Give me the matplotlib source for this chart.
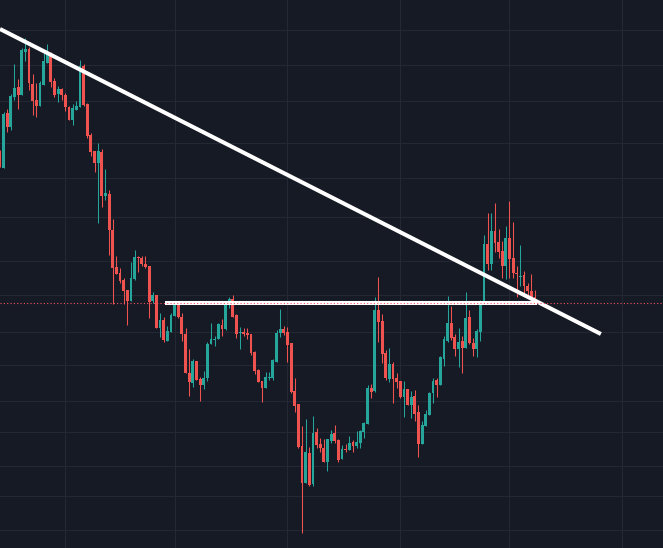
import matplotlib
matplotlib.use("Agg")
import matplotlib.pyplot as plt
import numpy as np

# Daily candles (price in chart units)
opens = [395, 380, 435, 421, 451, 461, 453, 496, 499, 464, 448, 442, 463, 485, 495, 467,
         454, 459, 453, 441, 428, 438, 441, 482, 444, 413, 397, 385, 396, 352, 354, 318,
         281, 275, 268, 258, 247, 269, 291, 290, 284, 282, 247, 253, 220, 228, 207, 216,
         232, 244, 231, 214, 175, 165, 187, 169, 163, 170, 204, 208, 209, 223, 219, 244,
         249, 233, 215, 216, 215, 214, 196, 178, 167, 160, 170, 170, 186, 215, 219, 216,
         205, 157, 144, 102, 65, 95, 64, 116, 104, 100, 86, 107, 115, 108, 89, 99,
         98, 106, 102, 105, 116, 124, 160, 157, 238, 227, 195, 169, 184, 170, 167, 151,
         159, 143, 152, 136, 104, 122, 133, 155, 168, 163, 189, 207, 225, 211, 199, 207,
         200, 231, 205, 199, 216, 245, 304, 284, 317, 306, 297, 282, 310, 290, 275, 271,
         273, 262, 257, 251]
highs = [398, 436, 439, 454, 484, 469, 500, 510, 501, 474, 465, 467, 495, 504, 496, 470,
         462, 460, 455, 442, 444, 447, 488, 484, 445, 415, 397, 405, 399, 379, 358, 329,
         292, 280, 270, 258, 286, 298, 292, 292, 292, 282, 256, 253, 235, 231, 222, 235,
         247, 245, 235, 220, 199, 189, 187, 171, 177, 206, 225, 212, 225, 229, 245, 251,
         253, 234, 221, 220, 220, 214, 197, 179, 167, 176, 176, 189, 218, 239, 222, 221,
         205, 170, 144, 122, 129, 101, 132, 120, 110, 109, 109, 118, 123, 109, 103, 104,
         112, 108, 117, 118, 126, 163, 164, 251, 271, 234, 198, 200, 186, 175, 167, 167,
         159, 157, 158, 143, 127, 138, 156, 170, 170, 192, 212, 252, 242, 214, 220, 212,
         256, 238, 210, 219, 248, 313, 335, 335, 345, 319, 307, 322, 347, 326, 282, 303,
         277, 265, 274, 258]
lows = [381, 380, 416, 418, 448, 439, 453, 487, 458, 433, 431, 442, 463, 485, 461, 451,
        446, 448, 437, 428, 423, 438, 441, 442, 410, 392, 376, 325, 341, 348, 293, 244,
        274, 265, 244, 223, 247, 268, 276, 282, 280, 230, 245, 220, 211, 206, 207, 216,
        232, 230, 207, 175, 152, 161, 168, 147, 159, 167, 204, 202, 209, 212, 218, 240,
        231, 210, 199, 212, 209, 193, 174, 166, 146, 160, 168, 168, 186, 211, 213, 186,
        155, 136, 100, 15, 65, 62, 62, 100, 96, 86, 77, 105, 105, 86, 89, 96,
        98, 96, 100, 100, 110, 124, 150, 156, 206, 185, 168, 166, 145, 160, 150, 131,
        143, 130, 127, 91, 104, 122, 133, 145, 151, 163, 182, 206, 208, 192, 181, 175,
        200, 204, 192, 191, 207, 245, 278, 278, 296, 290, 270, 269, 270, 270, 251, 262,
        252, 251, 249, 245]
closes = [381, 434, 421, 452, 460, 453, 498, 499, 465, 447, 442, 465, 487, 495, 466, 453,
          459, 453, 441, 428, 440, 442, 482, 443, 412, 396, 385, 397, 352, 355, 318, 280,
          274, 267, 257, 247, 270, 291, 290, 284, 281, 246, 253, 220, 228, 208, 217, 233,
          245, 231, 214, 175, 166, 187, 168, 163, 170, 204, 209, 209, 224, 219, 244, 249,
          231, 214, 216, 214, 213, 195, 177, 166, 160, 171, 171, 188, 215, 219, 215, 203,
          156, 142, 101, 65, 96, 63, 115, 103, 100, 86, 109, 114, 107, 88, 99, 98,
          105, 102, 106, 117, 125, 160, 156, 238, 226, 194, 170, 184, 169, 166, 151, 159,
          143, 151, 134, 104, 123, 134, 155, 167, 163, 191, 209, 225, 210, 199, 206, 200,
          230, 205, 199, 217, 246, 304, 284, 317, 305, 296, 282, 310, 289, 275, 274, 272,
          262, 257, 249, 245]

# drawings on the chart
trend_x = [0.03, 165.1]
trend_y = [519, 214]
level_x = [45.4, 147.6]
level_y = 245
last_price = closes[-1]

# grid positions
month_ticks = [18, 48, 79, 110, 140, 171]
price_ticks = [517.6, 483.3, 446.6, 404.7, 369.7, 330.6, 286.6, 252.7, 216.0,
               182.7, 146.8, 115.7, 82.4, 51.7, 18.5]

bg = "#161a25"
up_col = "#26a69a"
down_col = "#ef5350"

fig = plt.figure(figsize=(6.63, 5.48), dpi=100)
fig.patch.set_facecolor(bg)
ax = fig.add_axes([0, 0, 1, 1])
ax.set_facecolor(bg)

o = np.array(opens, dtype=float)
h = np.array(highs, dtype=float)
l = np.array(lows, dtype=float)
c = np.array(closes, dtype=float)
x = np.arange(len(o))
up = c >= o
colors = np.where(up, up_col, down_col)

ax.vlines(x, l, h, colors=colors, linewidth=0.75, zorder=2)
body_low = np.minimum(o, c)
body_h = np.maximum(np.abs(c - o), 0.9)
ax.bar(x, body_h, bottom=body_low, width=0.78, color=colors, linewidth=0, zorder=3)

ax.plot(level_x, [level_y, level_y], color="white", linewidth=2.9, solid_capstyle="butt", zorder=4)
ax.plot(trend_x, trend_y, color="white", linewidth=2.9, solid_capstyle="butt", zorder=5)
# last price line, dotted, on top
ax.axhline(last_price, color="#f7525f", linewidth=0.8, linestyle=(0, (1, 2)), zorder=6)

ax.set_xlim(0.03, 182.17)
ax.set_ylim(0, 548)
ax.set_xticks(month_ticks)
ax.set_yticks(price_ticks)
ax.grid(True, color="#242835", linewidth=0.8)
ax.set_axisbelow(True)
ax.tick_params(length=0, labelbottom=False, labelleft=False)
for s in ax.spines.values():
    s.set_visible(False)

fig.savefig("out.png", dpi=100, facecolor=bg)
